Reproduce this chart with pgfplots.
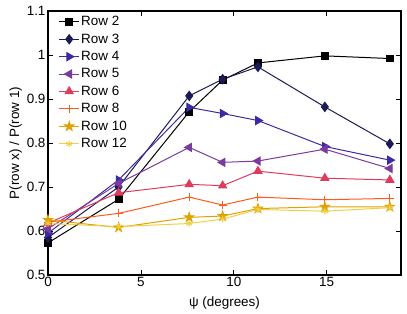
\documentclass[border=0pt]{standalone}
\usepackage{pgfplots}
\pgfplotsset{compat=1.18}
\usepackage{fontspec}
\setmainfont{Liberation Sans}
\usetikzlibrary{plotmarks}
\definecolor{c2}{HTML}{000000}
\definecolor{c3}{HTML}{1B1B55}
\definecolor{c4}{HTML}{3A2AA6}
\definecolor{c5}{HTML}{7A3B9E}
\definecolor{c6}{HTML}{E03A5C}
\definecolor{c8}{HTML}{FF5A1E}
\definecolor{c10}{HTML}{E0A200}
\definecolor{c12}{HTML}{EFD045}
\pgfdeclareplotmark{fstar}{%
  \pgfpathmoveto{\pgfpointpolar{90}{1.3\pgfplotmarksize}}%
  \pgfpathlineto{\pgfpointpolar{126}{0.5\pgfplotmarksize}}%
  \pgfpathlineto{\pgfpointpolar{162}{1.3\pgfplotmarksize}}%
  \pgfpathlineto{\pgfpointpolar{198}{0.5\pgfplotmarksize}}%
  \pgfpathlineto{\pgfpointpolar{234}{1.3\pgfplotmarksize}}%
  \pgfpathlineto{\pgfpointpolar{270}{0.5\pgfplotmarksize}}%
  \pgfpathlineto{\pgfpointpolar{306}{1.3\pgfplotmarksize}}%
  \pgfpathlineto{\pgfpointpolar{342}{0.5\pgfplotmarksize}}%
  \pgfpathlineto{\pgfpointpolar{18}{1.3\pgfplotmarksize}}%
  \pgfpathlineto{\pgfpointpolar{54}{0.5\pgfplotmarksize}}%
  \pgfpathclose
  \pgfusepathqfillstroke}
\begin{document}
\begin{tikzpicture}[x=1bp,y=1bp]
\begin{axis}[
  name=ax,
  scale only axis,
  width=353bp, height=264bp,
  xmin=0, xmax=19, ymin=0.5, ymax=1.1,
  xtick={0,5,10,15}, ytick={0.5,0.6,0.7,0.8,0.9,1,1.1},
  yticklabels={0.5,0.6,0.7,0.8,0.9,1,1.1},
  tick align=inside, major tick length=5bp,
  axis line style={line width=1.3pt},
  every tick/.style={black, line width=0.7pt},
  tick label style={font=\fontsize{13.5}{15}\selectfont},
  label style={font=\fontsize{13.5}{15}\selectfont},
  xticklabel style={yshift=1bp},
  yticklabel style={xshift=1bp},
  /pgf/number format/assume math mode=true,
  xlabel={ψ (degrees)},
  ylabel={P(row x) / P(row 1)},
  xlabel style={yshift=-3bp},
  ylabel style={yshift=-2bp},
  legend style={draw=none, fill=none, at={(0.027,0.99)}, anchor=north west,
    font=\fontsize{13.5}{15}\selectfont, row sep=3.6bp, inner sep=1bp,
    nodes={inner sep=1.5bp}},
  legend cell align=left,
  legend image post style={sharp plot},
  legend image code/.code={\draw[mark repeat=2,mark phase=2] plot coordinates {(0bp,0bp) (10bp,0bp) (20bp,0bp)};},
  every axis plot/.append style={line width=1pt, mark size=3.5bp},
]
\addplot[c2, mark=square*, mark size=3.4bp] coordinates {(0,0.573) (3.8,0.672) (7.6,0.871) (9.4,0.943) (11.3,0.982) (14.9,0.998) (18.4,0.992)};
\addlegendentry{Row 2}
\addplot[c3, mark=diamond*, mark size=4.6bp] coordinates {(0,0.585) (3.8,0.700) (7.6,0.907) (9.4,0.945) (11.3,0.973) (14.9,0.882) (18.4,0.798)};
\addlegendentry{Row 3}
\addplot[c4, mark=triangle*, mark options={rotate=-90}, mark size=4.6bp] coordinates {(0,0.595) (3.8,0.716) (7.6,0.881) (9.4,0.867) (11.3,0.851) (14.9,0.792) (18.4,0.761)};
\addlegendentry{Row 4}
\addplot[c5, mark=triangle*, mark options={rotate=90}, mark size=4.6bp] coordinates {(0,0.605) (3.8,0.708) (7.6,0.790) (9.4,0.756) (11.3,0.759) (14.9,0.786) (18.4,0.742)};
\addlegendentry{Row 5}
\addplot[c6, mark=triangle*, mark size=4.6bp] coordinates {(0,0.618) (3.8,0.687) (7.6,0.706) (9.4,0.703) (11.3,0.736) (14.9,0.720) (18.4,0.716)};
\addlegendentry{Row 6}
\addplot[c8, mark=+, mark size=4bp] coordinates {(0,0.620) (3.8,0.640) (7.6,0.677) (9.4,0.659) (11.3,0.677) (14.9,0.671) (18.4,0.674)};
\addlegendentry{Row 8}
\addplot[c10, mark=fstar, mark size=3.6bp] coordinates {(0,0.625) (3.8,0.608) (7.6,0.631) (9.4,0.634) (11.3,0.651) (14.9,0.655) (18.4,0.655)};
\addlegendentry{Row 10}
\addplot[c12, mark=asterisk, mark size=3.4bp] coordinates {(0,0.617) (3.8,0.610) (7.6,0.617) (9.4,0.627) (11.3,0.649) (14.9,0.645) (18.4,0.653)};
\addlegendentry{Row 12}
\end{axis}
\pgfresetboundingbox
\useasboundingbox ([xshift=-48bp,yshift=-39bp]ax.south west) rectangle ([xshift=6bp,yshift=11bp]ax.north east);
\end{tikzpicture}
\end{document}
